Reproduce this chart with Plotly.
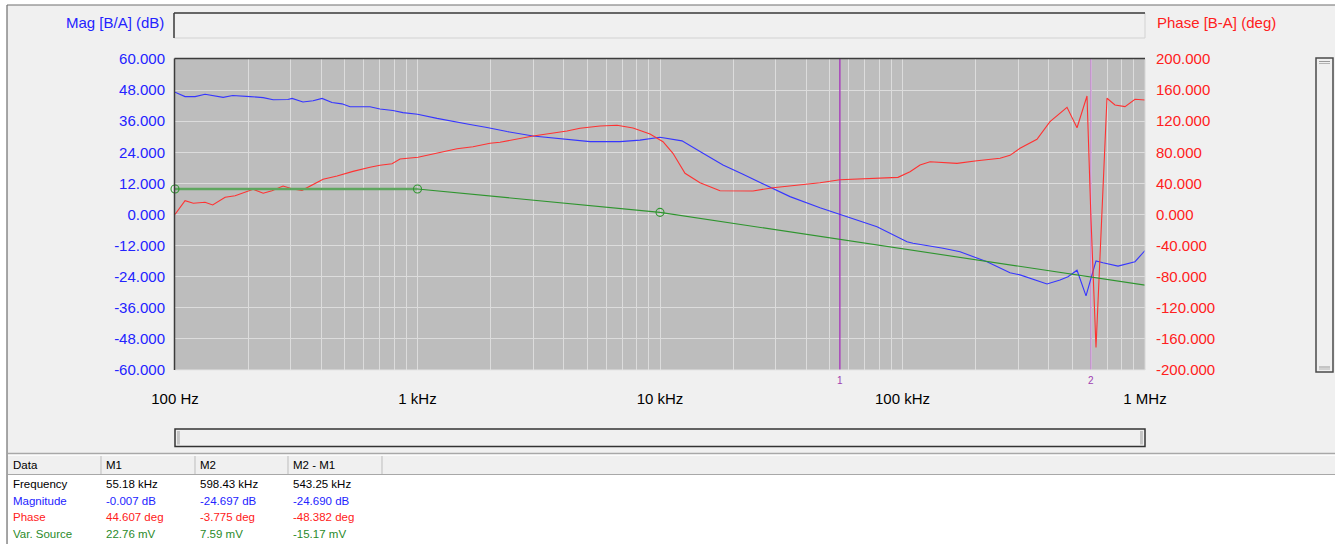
import numpy as np
import plotly.graph_objects as go

W, H = 1335, 544

# ---------------- data ----------------
mag_freq_hz = [100, 110, 121, 133, 158, 173, 204, 231, 254, 292, 304, 337, 371, 404, 444,
               488, 527, 637, 700, 792, 871, 1000, 1204, 1401, 1646, 1935, 2339, 2995,
               3981, 5144, 6841, 8269, 10000, 12320, 15040, 18190, 21990, 27620, 34370,
               45680, 55180, 78490, 104400, 110500, 146900, 172700, 223100, 277500,
               305200, 394500, 446200, 481400, 524400, 571200, 598430, 628000, 671100,
               774000, 909500, 1000000]
mag_db = [47.2, 45.5, 45.5, 46.4, 45.2, 45.9, 45.5, 45.1, 44.3, 44.4, 44.8, 43.4, 43.9, 44.8, 43.2,
          42.7, 41.6, 41.6, 40.7, 40.1, 39.3, 38.7, 37.1, 35.8, 34.7, 33.6, 32.0, 30.3,
          29.0, 28.1, 28.1, 28.7, 29.8, 28.4, 23.6, 19.1, 15.5, 11.0, 6.9,
          2.6, -0.007, -4.7, -10.5, -11.1, -13.0, -14.4, -18.2, -22.5,
          -23.3, -26.8, -25.3, -24.0, -21.5, -31.4, -24.697, -17.9, -18.6,
          -19.9, -18.2, -13.9]

phase_freq_hz = [100, 110, 119, 133, 143, 161, 177, 210, 231, 251, 279, 306, 334, 367, 408,
                 466, 542, 637, 700, 785, 847, 1005, 1204, 1455, 1694, 1991, 2189, 2995,
                 4135, 4678, 5657, 6650, 7740, 9094, 10290, 11310, 12680, 14620, 17680,
                 24180, 29240, 36720, 45680, 55180, 71390, 95800, 107400, 118100, 129900,
                 167800, 202900, 252400, 277500, 305200, 358500, 405700, 476900, 524400,
                 576600, 598430, 628000, 697000, 752000, 827000, 909500, 1000000]
phase_deg = [0.2, 17.8, 14.4, 15.7, 12.2, 22.1, 24.2, 32.4, 27.3, 30.6, 36.6, 32.8, 31.1, 37.9, 45.3,
             49.5, 55.5, 60.7, 63.3, 65.3, 71.4, 73.6, 78.7, 84.6, 87.2, 91.6, 92.9, 101.0,
             107.4, 110.9, 113.8, 114.7, 111.2, 103.5, 93.6, 78.7, 53.0, 40.9, 30.6,
             30.2, 34.5, 37.9, 40.8, 44.607, 46.5, 47.8, 55.0, 63.7, 67.9,
             65.8, 69.2, 72.3, 76.1, 85.1, 96.7, 119.4, 137.9, 111.6,
             152.4, -3.775, -171.0, 149.5, 140.8, 138.7, 148.2, 147.3]

source_freq_hz = [100, 1000, 10000, 1000000]
source_mv = [43.0, 43.0, 33.6, 4.3]
source_point_freq_hz = [100, 1000, 10000]
source_point_mv = [43.0, 43.0, 33.6]

marker_freq_hz = [55180, 598430]
marker_names = ["1", "2"]

freq_tick_vals = [100, 1000, 10000, 100000, 1000000]
freq_tick_labels = ["100 Hz", "1 kHz", "10 kHz", "100 kHz", "1 MHz"]
mag_tick_vals = [60, 48, 36, 24, 12, 0, -12, -24, -36, -48, -60]
mag_tick_labels = ["60.000", "48.000", "36.000", "24.000", "12.000", "0.000",
                   "-12.000", "-24.000", "-36.000", "-48.000", "-60.000"]
phase_tick_vals = [200, 160, 120, 80, 40, 0, -40, -80, -120, -160, -200]
phase_tick_labels = ["200.000", "160.000", "120.000", "80.000", "40.000", "0.000",
                     "-40.000", "-80.000", "-120.000", "-160.000", "-200.000"]

table_header = ["Data", "M1", "M2", "M2 - M1"]
table_rows = ["Frequency", "Magnitude", "Phase", "Var. Source"]
m1_values = ["55.18 kHz", "-0.007 dB", "44.607 deg", "22.76 mV"]
m2_values = ["598.43 kHz", "-24.697 dB", "-3.775 deg", "7.59 mV"]
diff_values = ["543.25 kHz", "-24.690 dB", "-48.382 deg", "-15.17 mV"]

# ---------------- styles ----------------
FONT = "Liberation Sans, Arial, sans-serif"
BLUE_TXT = "#2323ff"
RED_TXT = "#ff2020"
GREEN_TXT = "#2a8a2a"
BLUE_LINE = "#3636ff"
RED_LINE = "#ff3232"
GREEN_LINE = "#2f952f"
PURPLE = "#a040b0"
GRID = "#dcdcdc"
PLOT_BG = "#bdbdbd"
WIN_BG = "#f0f0f0"


def px(x):
    return x / W


def py(y):
    return 1 - y / H


PL, PR, PT, PB = 175, 1145, 59, 370  # plot area in pixels

fig = go.Figure()

fig.add_trace(go.Scatter(x=source_freq_hz, y=source_mv, yaxis="y3", mode="lines",
                         line=dict(color=GREEN_LINE, width=1.1), name="Var. Source"))
fig.add_trace(go.Scatter(x=source_freq_hz[:2], y=source_mv[:2], yaxis="y3", mode="lines",
                         line=dict(color="#5fa65f", width=2.4), hoverinfo="skip"))
fig.add_trace(go.Scatter(x=source_point_freq_hz, y=source_point_mv, yaxis="y3", mode="markers",
                         marker=dict(symbol="circle-open", size=8, color=GREEN_LINE,
                                     line=dict(width=1.1, color=GREEN_LINE)),
                         cliponaxis=False, hoverinfo="skip"))

marker_colors = ["#a532bb", "#c77fd4"]
marker_widths = [1.3, 1.1]
for f, c, w in zip(marker_freq_hz, marker_colors, marker_widths):
    fig.add_trace(go.Scatter(x=[f, f], y=[mag_tick_vals[-1], mag_tick_vals[0]], mode="lines",
                             line=dict(color=c, width=w), hoverinfo="skip"))

fig.add_trace(go.Scatter(x=phase_freq_hz, y=phase_deg, yaxis="y2", mode="lines",
                         line=dict(color=RED_LINE, width=1.1), name="Phase"))
fig.add_trace(go.Scatter(x=mag_freq_hz, y=mag_db, mode="lines",
                         line=dict(color=BLUE_LINE, width=1.1), name="Magnitude"))

minor_vals = [d * m for d in [100, 1000, 10000, 100000] for m in range(2, 10)]

fig.update_layout(
    width=W, height=H, autosize=False,
    margin=dict(l=0, r=0, t=0, b=0, pad=0, autoexpand=False),
    paper_bgcolor=WIN_BG, plot_bgcolor=PLOT_BG,
    font=dict(family=FONT, size=15, color="black"),
    showlegend=False,
    xaxis=dict(type="log", range=[np.log10(freq_tick_vals[0]), np.log10(freq_tick_vals[-1])],
               domain=[px(PL), px(PR)], tickvals=freq_tick_vals, ticktext=freq_tick_labels,
               showgrid=True, gridcolor=GRID, gridwidth=1, zeroline=False, ticks="",
               showline=False, ticklabelstandoff=18, automargin=False,
               tickfont=dict(size=15, color="black"),
               minor=dict(tickvals=minor_vals, showgrid=True, gridcolor=GRID, gridwidth=1, ticks="")),
    yaxis=dict(range=[mag_tick_vals[-1], mag_tick_vals[0]], domain=[py(PB), py(PT)],
               tickvals=mag_tick_vals, ticktext=mag_tick_labels, showgrid=True, gridcolor=GRID,
               gridwidth=1, zeroline=False, ticks="", showline=False, ticklabelstandoff=9,
               automargin=False, tickfont=dict(size=15, color=BLUE_TXT)),
    yaxis2=dict(range=[phase_tick_vals[-1], phase_tick_vals[0]], overlaying="y", side="right",
                anchor="x", tickvals=phase_tick_vals, ticktext=phase_tick_labels, showgrid=False,
                zeroline=False, ticks="", showline=False, ticklabelstandoff=10, automargin=False,
                tickfont=dict(size=15, color=RED_TXT)),
    yaxis3=dict(range=[-29.84, 95.32], overlaying="y", visible=False, showgrid=False,
                zeroline=False, automargin=False),
)

shapes = []


def line(x0, y0, x1, y1, color, width=1):
    shapes.append(dict(type="line", xref="paper", yref="paper", x0=px(x0), y0=py(y0),
                       x1=px(x1), y1=py(y1), line=dict(color=color, width=width)))


def rect(x0, y0, x1, y1, fill, color=None, width=0):
    shapes.append(dict(type="rect", xref="paper", yref="paper", x0=px(x0), y0=py(y0),
                       x1=px(x1), y1=py(y1), fillcolor=fill,
                       line=dict(color=color or fill, width=width)))


# white margins around the window and the white table body
rect(0, 0, W, 5, "white")
rect(0, 0, 7, H, "white")
rect(8, 475, W, H, "white")
line(7, 5, W, 5, "#6e6e6e", 1.2)
line(7, 5, 7, H, "#6e6e6e", 1.2)

# title box (sunken)
rect(174, 13, 1145, 38, WIN_BG, "#d2d2d2", 1)
line(174, 13, 1145, 13, "#3c3c3c", 1.5)
line(174, 13, 174, 38, "#3c3c3c", 1.5)

# plot frame (sunken)
line(PR, PT, PR, PB, "#d6d6d6", 1)
line(PL, PB, PR, PB, "#e4e4e4", 1.2)
line(PL - 0.5, PT - 0.5, PR, PT - 0.5, "#3c3c3c", 1.5)
line(PL - 0.5, PT - 0.5, PL - 0.5, PB, "#3c3c3c", 1.5)

# right scroll bar
rect(1316, 58, 1333, 372, WIN_BG, "#4a4a4a", 1.5)
line(1319, 61.5, 1330, 61.5, "#9a9a9a", 1)
line(1319, 63.5, 1330, 63.5, "#b4b4b4", 1)
line(1319, 367, 1330, 367, "#9a9a9a", 1)
line(1319, 369, 1330, 369, "#b4b4b4", 1)

# bottom slider
rect(175, 429, 1145, 446.5, WIN_BG, "#333333", 1.5)
line(178, 431, 178, 444.5, "#9a9a9a", 1)
line(179.5, 431, 179.5, 444.5, "#c8c8c8", 1)
line(1141, 431, 1141, 444.5, "#9a9a9a", 1)
line(1142.5, 431, 1142.5, 444.5, "#c8c8c8", 1)

# table header
line(8, 453.5, W, 453.5, "#a8a8a8", 1.5)
line(8, 455.2, W, 455.2, "#ffffff", 1)
line(8, 474.5, W, 474.5, "#a8a8a8", 1.2)
for xs in [101, 195, 288, 382]:
    line(xs, 456, xs, 474, "#bdbdbd", 1)

fig.update_layout(shapes=shapes)

ann = []


def text(x, y, s, color="black", size=15, xanchor="left"):
    ann.append(dict(xref="paper", yref="paper", x=px(x), y=py(y), text=s, showarrow=False,
                    xanchor=xanchor, yanchor="middle", font=dict(family=FONT, size=size, color=color)))


text(166, 23, "Mag [B/A] (dB)", BLUE_TXT, 15, "right")
text(1155, 23, "Phase [B-A] (deg)", RED_TXT, 15, "left")

for f, name in zip(marker_freq_hz, marker_names):
    ann.append(dict(xref="x", yref="paper", x=np.log10(f), y=py(380), text=name, showarrow=False,
                    xanchor="center", yanchor="middle", font=dict(family=FONT, size=10, color=PURPLE)))

col_x = [11, 104, 198, 291]
for cx, s in zip(col_x, table_header):
    text(cx, 465, s, "black", 11.5)
row_y = [484, 500.5, 517, 533.5]
row_colors = ["black", BLUE_TXT, RED_TXT, GREEN_TXT]
for i, (ry, rc) in enumerate(zip(row_y, row_colors)):
    for cx, s in zip(col_x, [table_rows[i], m1_values[i], m2_values[i], diff_values[i]]):
        text(cx, ry, s, rc, 11.5)

fig.update_layout(annotations=ann)

fig.write_html("out.html", config={"displayModeBar": False},
               post_script="document.body.style.margin='0';document.body.style.overflow='hidden';")
